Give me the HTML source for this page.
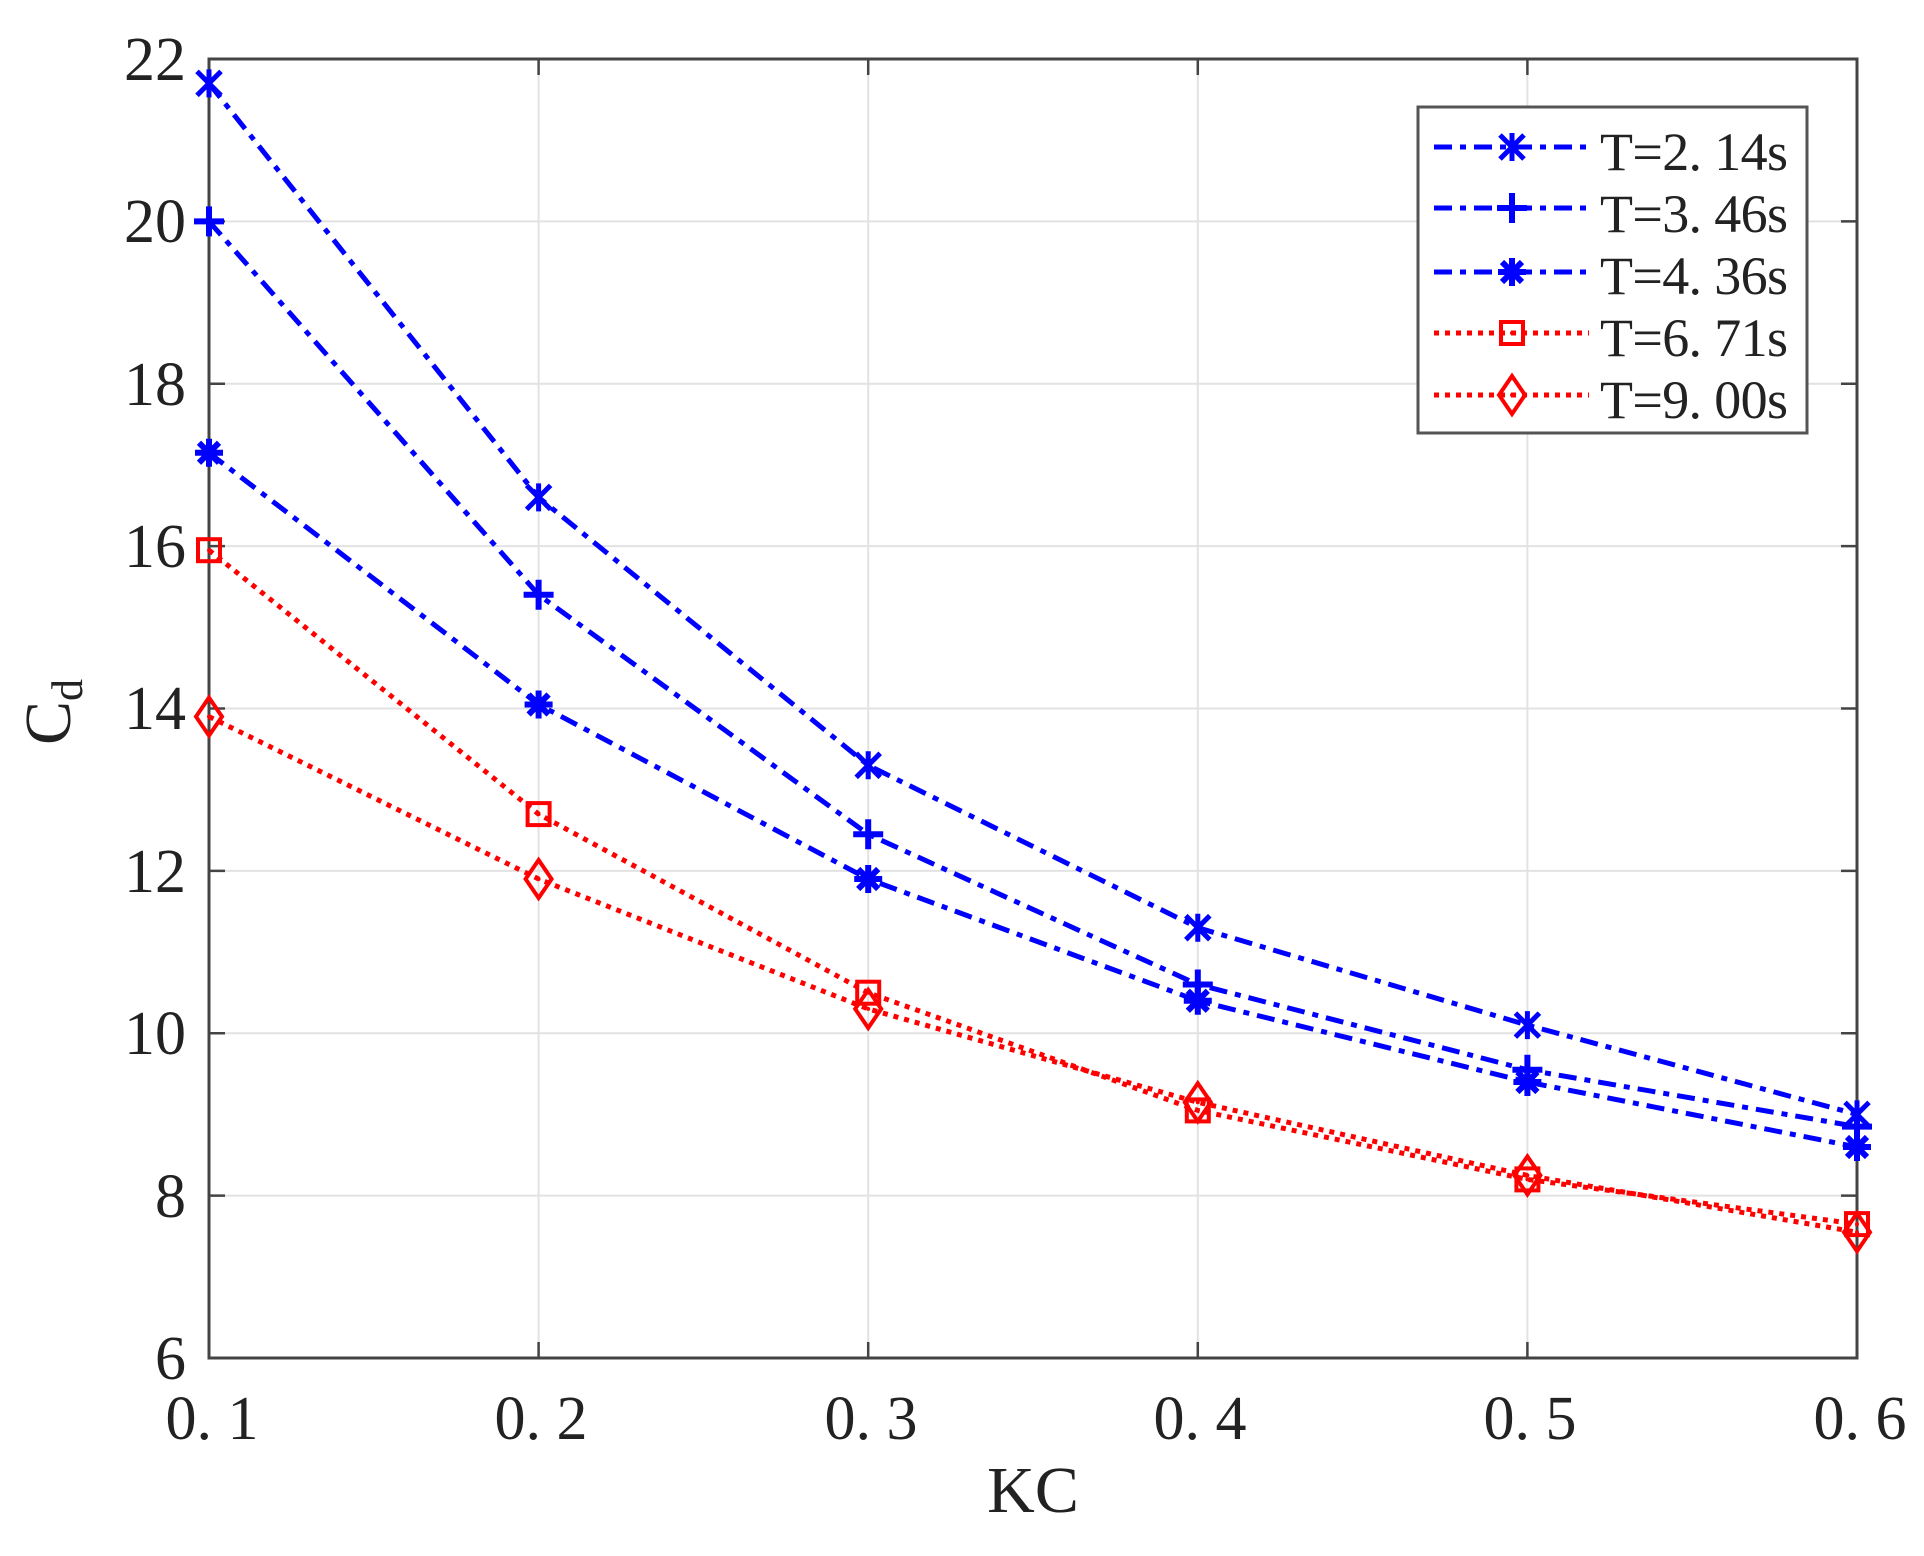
<!DOCTYPE html>
<html><head><meta charset="utf-8"><style>
html,body{margin:0;padding:0;background:#fff;}
svg{display:block;}
text{font-family:"Liberation Serif","Noto Serif CJK SC",serif;fill:#222;}
</style></head><body>
<svg width="1924" height="1556" viewBox="0 0 1924 1556" xmlns="http://www.w3.org/2000/svg">
<defs>
<g id="star"><path d="M-12,-12L12,12M-12,12L12,-12M0,-14L0,14" stroke="#0000ff" stroke-width="5" fill="none"/></g>
<g id="plus"><path d="M-15,0L15,0M0,-15L0,15" stroke="#0000ff" stroke-width="6" fill="none"/></g>
<g id="ast"><path d="M-14,0L14,0M0,-14L0,14M-10,-10L10,10M-10,10L10,-10" stroke="#0000ff" stroke-width="6" fill="none"/><circle r="8" fill="#0000ff"/></g>
<g id="sq"><rect x="-11" y="-11" width="22" height="22" stroke="#ff0000" stroke-width="4" fill="none"/><circle r="2" fill="#ff0000"/></g>
<g id="dm"><path d="M0,-19L13,0L0,19L-13,0Z" stroke="#ff0000" stroke-width="4" fill="none"/><circle r="2" fill="#ff0000"/></g>
</defs>
<!-- grid -->
<g stroke="#e2e2e2" stroke-width="2">
<line x1="538.6" y1="59" x2="538.6" y2="1358"/><line x1="868.2" y1="59" x2="868.2" y2="1358"/><line x1="1197.8" y1="59" x2="1197.8" y2="1358"/><line x1="1527.4" y1="59" x2="1527.4" y2="1358"/>
<line x1="209" y1="221.4" x2="1857" y2="221.4"/><line x1="209" y1="383.8" x2="1857" y2="383.8"/><line x1="209" y1="546.1" x2="1857" y2="546.1"/><line x1="209" y1="708.5" x2="1857" y2="708.5"/><line x1="209" y1="870.9" x2="1857" y2="870.9"/><line x1="209" y1="1033.2" x2="1857" y2="1033.2"/><line x1="209" y1="1195.6" x2="1857" y2="1195.6"/>
</g>
<!-- ticks -->
<g stroke="#444" stroke-width="2.5">
<path d="M538.6,1358v-16M868.2,1358v-16M1197.8,1358v-16M1527.4,1358v-16M538.6,59v16M868.2,59v16M1197.8,59v16M1527.4,59v16"/>
<path d="M209,221.4h16M209,383.8h16M209,546.1h16M209,708.5h16M209,870.9h16M209,1033.2h16M209,1195.6h16M1857,221.4h-16M1857,383.8h-16M1857,546.1h-16M1857,708.5h-16M1857,870.9h-16M1857,1033.2h-16M1857,1195.6h-16"/>
</g>
<rect x="209" y="59" width="1648" height="1299" fill="none" stroke="#444" stroke-width="3"/>
<!-- series -->
<g fill="none" stroke-width="5">
<polyline stroke="#0000ff" stroke-dasharray="18 8 6 8" points="209,83.4 538.6,497.4 868.2,765.3 1197.8,927.7 1527.4,1025.1 1857,1114.4"/>
<polyline stroke="#0000ff" stroke-dasharray="18 8 6 8" points="209,221.4 538.6,594.8 868.2,834.3 1197.8,984.5 1527.4,1069.8 1857,1126.6"/>
<polyline stroke="#0000ff" stroke-dasharray="18 8 6 8" points="209,452.8 538.6,704.5 868.2,879 1197.8,1000.8 1527.4,1082 1857,1147"/>
<polyline stroke="#ff0000" stroke-dasharray="5 6" points="209,550.2 538.6,814.1 868.2,992.7 1197.8,1110.4 1527.4,1179.4 1857,1224.1"/>
<polyline stroke="#ff0000" stroke-dasharray="5 6" points="209,716.6 538.6,879 868.2,1008.9 1197.8,1102.3 1527.4,1175.4 1857,1232.2"/>
</g>
<use href="#star" x="209" y="83.4"/><use href="#star" x="538.6" y="497.4"/><use href="#star" x="868.2" y="765.3"/><use href="#star" x="1197.8" y="927.7"/><use href="#star" x="1527.4" y="1025.1"/><use href="#star" x="1857" y="1114.4"/>
<use href="#plus" x="209" y="221.4"/><use href="#plus" x="538.6" y="594.8"/><use href="#plus" x="868.2" y="834.3"/><use href="#plus" x="1197.8" y="984.5"/><use href="#plus" x="1527.4" y="1069.8"/><use href="#plus" x="1857" y="1126.6"/>
<use href="#ast" x="209" y="452.8"/><use href="#ast" x="538.6" y="704.5"/><use href="#ast" x="868.2" y="879"/><use href="#ast" x="1197.8" y="1000.8"/><use href="#ast" x="1527.4" y="1082"/><use href="#ast" x="1857" y="1147"/>
<use href="#sq" x="209" y="550.2"/><use href="#sq" x="538.6" y="814.1"/><use href="#sq" x="868.2" y="992.7"/><use href="#sq" x="1197.8" y="1110.4"/><use href="#sq" x="1527.4" y="1179.4"/><use href="#sq" x="1857" y="1224.1"/>
<use href="#dm" x="209" y="716.6"/><use href="#dm" x="538.6" y="879"/><use href="#dm" x="868.2" y="1008.9"/><use href="#dm" x="1197.8" y="1102.3"/><use href="#dm" x="1527.4" y="1175.4"/><use href="#dm" x="1857" y="1232.2"/>
<!-- y tick labels -->
<g font-size="62" text-anchor="end">
<text x="186" y="80">22</text><text x="186" y="242">20</text><text x="186" y="405">18</text><text x="186" y="567">16</text><text x="186" y="729">14</text><text x="186" y="892">12</text><text x="186" y="1054">10</text><text x="186" y="1217">8</text><text x="186" y="1379">6</text>
</g>
<g font-size="62" text-anchor="middle">
<text x="212" y="1439">0. 1</text><text x="541" y="1439">0. 2</text><text x="871" y="1439">0. 3</text><text x="1200" y="1439">0. 4</text><text x="1530" y="1439">0. 5</text><text x="1860" y="1439">0. 6</text>
</g>
<text x="1033" y="1512" font-size="66" text-anchor="middle">KC</text>
<g transform="translate(70,712) rotate(-90)"><text x="0" y="0" font-size="66" text-anchor="middle">C<tspan font-size="44" dy="12">d</tspan></text></g>
<!-- legend -->
<rect x="1418" y="107" width="389" height="326" fill="#fff" stroke="#555" stroke-width="3"/>
<g fill="none" stroke-width="5">
<line x1="1434" y1="147" x2="1589" y2="147" stroke="#0000ff" stroke-dasharray="18 8 6 8"/>
<line x1="1434" y1="208" x2="1589" y2="208" stroke="#0000ff" stroke-dasharray="18 8 6 8"/>
<line x1="1434" y1="272" x2="1589" y2="272" stroke="#0000ff" stroke-dasharray="18 8 6 8"/>
<line x1="1434" y1="333" x2="1589" y2="333" stroke="#ff0000" stroke-dasharray="5 6"/>
<line x1="1434" y1="395" x2="1589" y2="395" stroke="#ff0000" stroke-dasharray="5 6"/>
</g>
<use href="#star" x="1512" y="147"/><use href="#plus" x="1512" y="208"/><use href="#ast" x="1512" y="272"/><use href="#sq" x="1512" y="333"/><use href="#dm" x="1512" y="395"/>
<g font-size="54">
<text x="1600" y="170" textLength="188">T=2. 14s</text>
<text x="1600" y="232" textLength="188">T=3. 46s</text>
<text x="1600" y="294" textLength="188">T=4. 36s</text>
<text x="1600" y="356" textLength="188">T=6. 71s</text>
<text x="1600" y="418" textLength="188">T=9. 00s</text>
</g>
</svg>
</body></html>
